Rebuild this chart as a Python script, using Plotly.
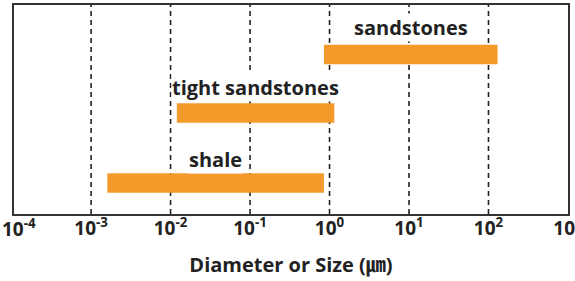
import math
import plotly.graph_objects as go

# Data
rock_types = ["sandstones", "tight sandstones", "shale"]
size_min_um = [0.85, 0.012, 0.0016]
size_max_um = [130, 1.15, 0.85]
tick_exponents = [-4, -3, -2, -1, 0, 1, 2, 3]
grid_exponents = [-3, -2, -1, 0, 1, 2]

# layout rows (vertical placement of each bar) and label offsets
row_pos = [7.63, 4.83, 1.48]
label_shift = [13, 11, 9]

FONT = "Open Sans, Noto Sans CJK KR"
ORANGE = "#F39A2B"
TXT = "#222222"

fig = go.Figure()
fig.add_trace(go.Bar(
    y=row_pos,
    x=[hi - lo for lo, hi in zip(size_min_um, size_max_um)],
    base=size_min_um,
    orientation="h",
    width=0.93,
    marker=dict(color=ORANGE, line=dict(width=0)),
    hoverinfo="skip",
))

# dashed grid lines at decades
for e in grid_exponents:
    fig.add_shape(type="line", xref="x", yref="paper",
                  x0=10 ** e, x1=10 ** e, y0=0, y1=1,
                  line=dict(color=TXT, width=1.6, dash="5px,4px"),
                  layer="below")

# labels above bars (centered at geometric mean), white background
for name, lo, hi, r, s in zip(rock_types, size_min_um, size_max_um, row_pos, label_shift):
    fig.add_annotation(
        x=(math.log10(lo) + math.log10(hi)) / 2, y=r,
        xref="x", yref="y", text="<b>" + name + "</b>",
        showarrow=False, yanchor="bottom", yshift=s,
        bgcolor="white", borderpad=0,
        font=dict(family=FONT, size=20, color=TXT),
    )

x_lo, x_hi = -3.97, 3.0005
shown = [e for e in tick_exponents if x_lo <= e <= x_hi]
hidden = [e for e in tick_exponents if not (x_lo <= e <= x_hi)]

# tick label lying just past the left end of the plotted range
for e in hidden:
    fig.add_annotation(
        x=0, y=0, xref="paper", yref="paper", xanchor="center", xshift=5,
        yanchor="middle", yshift=-14,
        text="<b>10<sup>%d</sup></b>" % e, showarrow=False,
        font=dict(family=FONT, size=19, color=TXT),
    )

fig.update_xaxes(
    type="log", range=[x_lo, x_hi], automargin=False,
    tickvals=[10 ** e for e in shown],
    ticktext=["<b>10<sup>%d</sup></b>" % e for e in shown],
    tickfont=dict(family=FONT, size=19, color=TXT),
    ticklabeloverflow="allow", ticklabelstandoff=-4,
    showgrid=False, zeroline=False,
    showline=True, mirror=True, linecolor="#333333", linewidth=2,
    ticks="", title=dict(text="<b>Diameter or Size (㎛)</b>",
                         font=dict(family=FONT, size=20, color=TXT),
                         standoff=18),
)
fig.update_yaxes(
    range=[0, 10], showticklabels=False, showgrid=False, zeroline=False,
    showline=True, mirror=True, linecolor="#333333", linewidth=2, ticks="",
    automargin=False,
)
fig.update_layout(
    width=575, height=281,
    margin=dict(l=14, r=7, t=5, b=67),
    plot_bgcolor="white", paper_bgcolor="white",
    showlegend=False,
)
fig.write_html("out.html")
